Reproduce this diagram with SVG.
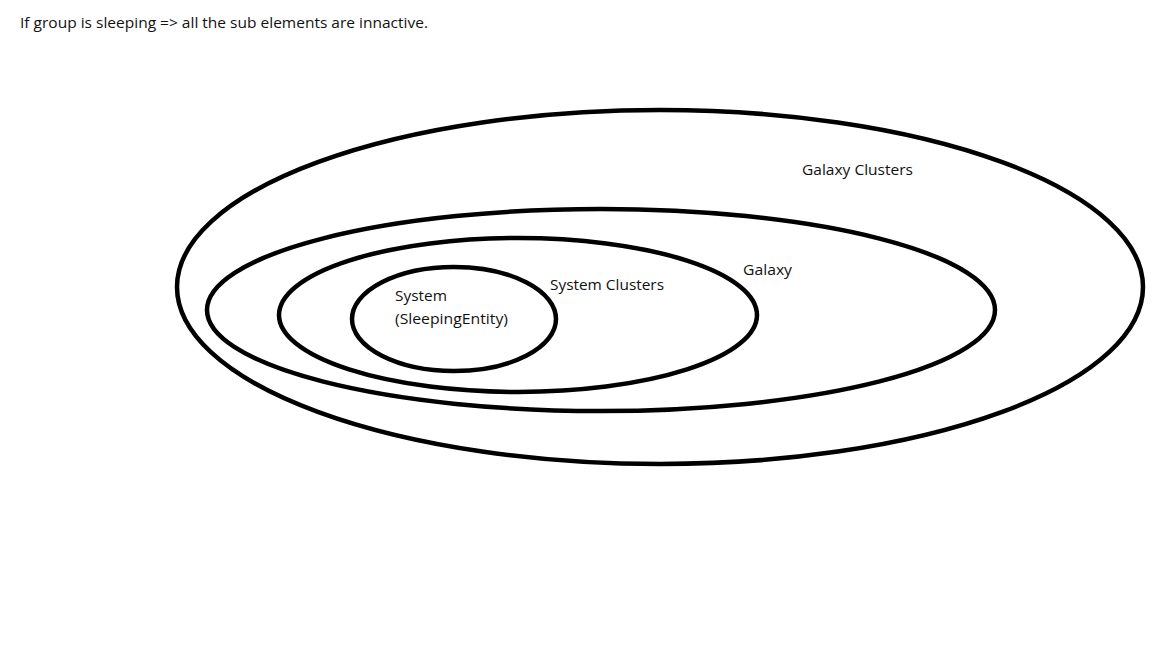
<svg xmlns="http://www.w3.org/2000/svg" width="1152" height="648" viewBox="0 0 1152 648">
<style>
.ring{fill:none;stroke:#000;stroke-width:4.5}
.lbl{font-family:"Open Sans","Liberation Sans",sans-serif;font-size:14px;fill:#111}
</style>
<rect width="1152" height="648" fill="#fff"/>
<text class="lbl" x="20" y="28" textLength="408" lengthAdjust="spacingAndGlyphs">If group is sleeping =&gt; all the sub elements are innactive.</text>
<g id="galaxy-clusters">
<ellipse class="ring" cx="660" cy="287" rx="483" ry="177"/>
<text class="lbl" x="802" y="175" textLength="111" lengthAdjust="spacingAndGlyphs">Galaxy Clusters</text>
</g>
<g id="galaxy">
<ellipse class="ring" cx="601" cy="310" rx="394" ry="101"/>
<text class="lbl" x="743" y="275" textLength="49" lengthAdjust="spacingAndGlyphs">Galaxy</text>
</g>
<g id="system-clusters">
<ellipse class="ring" cx="518" cy="315" rx="239" ry="77"/>
<text class="lbl" x="550" y="290" textLength="114" lengthAdjust="spacingAndGlyphs">System Clusters</text>
</g>
<g id="system">
<ellipse class="ring" cx="454" cy="319" rx="102" ry="52"/>
<text class="lbl" x="395" y="301" textLength="52" lengthAdjust="spacingAndGlyphs">System</text>
<text class="lbl" x="395" y="324" textLength="113" lengthAdjust="spacingAndGlyphs">(SleepingEntity)</text>
</g>
<g id="connectors"/>
</svg>
